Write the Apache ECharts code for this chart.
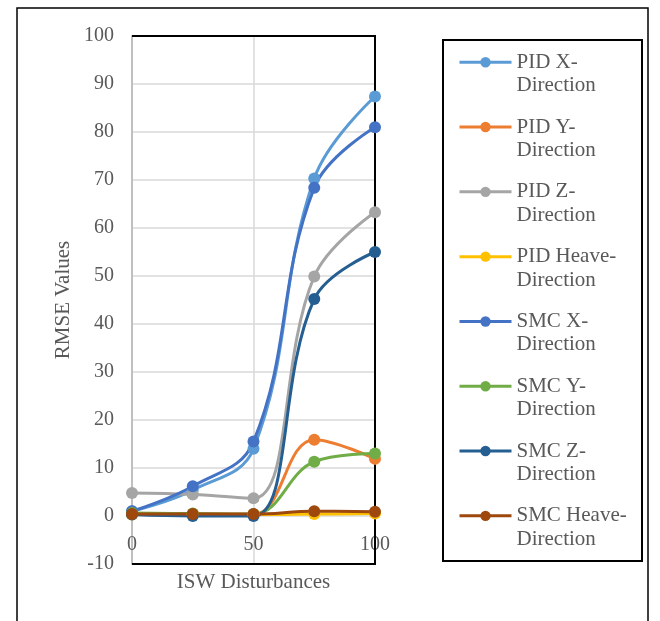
<!DOCTYPE html>
<html>
<head>
<meta charset="utf-8">
<script src="https://cdn.jsdelivr.net/npm/echarts@6/dist/echarts.min.js"></script>
<style>
html,body{margin:0;padding:0;background:#fff;}
#chart{width:660px;height:621px;}
</style>
</head>
<body>
<div id="chart"></div>
<script>
// ---- data ----
var xValues = [0, 25, 50, 75, 100];
var seriesNames = [
  'PID X-Direction', 'PID Y-Direction', 'PID Z-Direction', 'PID Heave-Direction',
  'SMC X-Direction', 'SMC Y-Direction', 'SMC Z-Direction', 'SMC Heave-Direction'
];
var pidX     = [1.0, 5.4, 14.0, 70.3, 87.4];
var pidY     = [0.5, 0.4, 0.3, 15.9, 11.9];
var pidZ     = [4.8, 4.5, 3.7, 49.9, 63.3];
var pidHeave = [0.3, 0.3, 0.3, 0.4, 0.5];
var smcX     = [1.0, 6.2, 15.5, 68.4, 81.0];
var smcY     = [0.6, 0.5, 0.4, 11.3, 13.0];
var smcZ     = [0.3, 0.0, 0.0, 45.2, 55.0];
var smcHeave = [0.4, 0.4, 0.4, 1.0, 0.9];
var yTicks = { min: -10, max: 100, step: 10 };
var xTicks = { min: 0, max: 100, step: 50 };

var seriesValues = [pidX, pidY, pidZ, pidHeave, smcX, smcY, smcZ, smcHeave];
var colors = ['#5B9BD5', '#ED7D31', '#A5A5A5', '#FFC000', '#4472C4', '#70AD47', '#255E91', '#9E480E'];

var FONT = '"Liberation Serif", "Times New Roman", serif';
var TXT = '#595959';

var chart = echarts.init(document.getElementById('chart'), null, {renderer: 'canvas'});

var series = seriesNames.map(function (name, i) {
  return {
    name: name,
    type: 'line',
    smooth: 0.4,
    symbol: 'circle',
    symbolSize: 12,
    showSymbol: true,
    lineStyle: { width: 3, color: colors[i] },
    itemStyle: { color: colors[i] },
    emphasis: { disabled: true },
    data: xValues.map(function (x, j) { return [x, seriesValues[i][j]]; })
  };
});

chart.setOption({
  animation: false,
  color: colors,
  grid: {
    left: 132, right: 285, top: 36, bottom: 57,
    containLabel: false,
    outerBoundsMode: 'none',
    show: false
  },
  xAxis: {
    type: 'value',
    min: xTicks.min, max: xTicks.max, interval: xTicks.step,
    name: 'ISW Disturbances',
    nameLocation: 'middle',
    nameGap: 8,
    nameTextStyle: { fontFamily: FONT, fontSize: 21, color: TXT },
    axisLine: { show: false, onZero: false },
    axisTick: { show: false },
    axisLabel: { fontFamily: FONT, fontSize: 20, color: TXT, margin: -29 },
    splitLine: { show: true, lineStyle: { color: '#d9d9d9', width: 1.5 } }
  },
  yAxis: {
    type: 'value',
    min: yTicks.min, max: yTicks.max, interval: yTicks.step,
    name: 'RMSE Values',
    nameLocation: 'middle',
    nameRotate: 90,
    nameGap: 58,
    nameTextStyle: { fontFamily: FONT, fontSize: 21, color: TXT },
    axisLine: { show: true, onZero: false, lineStyle: { color: '#bfbfbf', width: 2 } },
    axisTick: { show: false },
    axisLabel: { fontFamily: FONT, fontSize: 20, color: TXT, margin: 18 },
    splitLine: { show: true, lineStyle: { color: '#d9d9d9', width: 1.5 } }
  },
  legend: {
    orient: 'vertical',
    left: 458,
    top: 27,
    padding: 0,
    itemWidth: 52,
    itemHeight: 13,
    itemGap: -5.7,
    selectedMode: false,
    data: seriesNames,
    lineStyle: { width: 3 },
    formatter: function (name) { return '\n' + name.replace('-', '-\n'); },
    textStyle: { fontFamily: FONT, fontSize: 21, color: TXT, lineHeight: 23.5 }
  },
  graphic: [
    { type: 'rect', silent: true, z: -1, shape: { x: 17, y: 8, width: 631, height: 640 },
      style: { fill: 'none', stroke: '#000', lineWidth: 1.5 } },
    { type: 'rect', silent: true, z: -1, shape: { x: 443, y: 40, width: 199, height: 521 },
      style: { fill: 'none', stroke: '#000', lineWidth: 2 } },
    { type: 'polyline', silent: true, z: 1,
      shape: { points: [[132, 36], [375, 36], [375, 564], [132, 564]] },
      style: { fill: 'none', stroke: '#000', lineWidth: 2 } }
  ],
  series: series
});
</script>
</body>
</html>
